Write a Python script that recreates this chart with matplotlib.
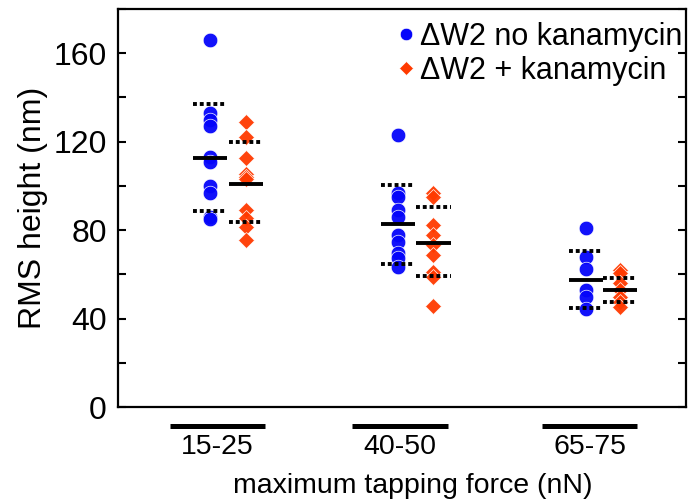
import numpy as np
import matplotlib.pyplot as plt
from matplotlib.lines import Line2D
import matplotlib.transforms as mtransforms

plt.rcParams['font.family'] = ['Liberation Sans', 'DejaVu Sans']

# categories and x positions (axis units)
groups = ['15-25', '40-50', '65-75']
bar_x = [1.76, 4.97, 8.31]
blue_x = [1.62, 4.94, 8.24]
red_x = [2.26, 5.56, 8.84]

# RMS heights (nm)
blue_vals = [
    [166, 133, 130, 127, 113, 111, 100, 97, 86, 85],
    [123, 96.7, 95, 89, 85.8, 77.8, 74.8, 69.5, 67.3, 63.5],
    [81, 68, 62.3, 53, 50, 44.5],
]
red_vals = [
    [129, 122, 112.5, 105.5, 104, 103, 89, 85.5, 81.5, 75.5],
    [96.7, 95, 82.4, 77.8, 73.3, 68.8, 61.2, 59, 45.7],
    [62, 60.6, 56, 53, 50, 47.6, 45.4],
]
# mean and upper/lower dotted lines
blue_mean = [112.8, 82.7, 57.5]
blue_hi = [137.2, 100.6, 70.7]
blue_lo = [88.7, 64.6, 44.7]
red_mean = [101, 74.4, 53]
red_hi = [119.8, 90.6, 58.2]
red_lo = [83.7, 59.3, 47.6]

blue = '#0505FA'
red = '#FF3A00'

fig = plt.figure(figsize=(6.89, 4.99), dpi=100)
ax = fig.add_axes([0.171, 0.184, 0.824, 0.798])
ax.set_xlim(0, 10)
ax.set_ylim(0, 180)

half = 0.3
for i in range(3):
    ax.plot([blue_x[i]] * len(blue_vals[i]), blue_vals[i], 'o', ms=10.5,
            color=blue, mec='white', mew=0.5, alpha=0.95, zorder=3)
    ax.plot([red_x[i]] * len(red_vals[i]), red_vals[i], 'D', ms=8.5,
            color=red, mec='white', mew=0.5, alpha=0.95, zorder=3)
    for x, m, hi, lo in [(blue_x[i], blue_mean[i], blue_hi[i], blue_lo[i]),
                         (red_x[i], red_mean[i], red_hi[i], red_lo[i])]:
        ax.plot([x - half, x + half], [m, m], color='black', lw=2.8, zorder=4,
                solid_capstyle='butt')
        for v in (hi, lo):
            ax.plot([x - half, x + half], [v, v], color='black', lw=2.8,
                    ls=(0, (1.0, 0.75)), zorder=4, dash_capstyle='butt')

# category bars below the axis
trans = mtransforms.blended_transform_factory(ax.transData, ax.transAxes)
for x in bar_x:
    ax.plot([x - 0.84, x + 0.84], [-0.048, -0.048], color='black', lw=3.6,
            transform=trans, clip_on=False, solid_capstyle='butt')

ax.set_xticks(bar_x)
ax.set_xticklabels(groups, fontsize=20.5)
ax.tick_params(axis='x', length=0, pad=19)
ax.set_yticks([0, 40, 80, 120, 160])
ax.set_yticks(np.arange(0, 181, 20), minor=True)
ax.tick_params(axis='y', which='both', direction='in', length=6, width=1.5,
               right=True, labelsize=23, pad=8)
for s in ax.spines.values():
    s.set_linewidth(1.6)

ax.set_ylabel('RMS height (nm)', fontsize=23, labelpad=4)
ax.set_xlabel('maximum tapping force (nN)', fontsize=20.5, labelpad=0)
ax.xaxis.set_label_coords(0.52, -0.165)

handles = [
    Line2D([], [], marker='o', ls='', color=blue, ms=9, mec='white', mew=0.5),
    Line2D([], [], marker='D', ls='', color=red, ms=7, mec='white', mew=0.5),
]
ax.legend(handles, ['ΔW2 no kanamycin', 'ΔW2 + kanamycin'], loc='upper right',
          bbox_to_anchor=(1.0, 0.975),
          frameon=False, fontsize=22, handlelength=0.5, handletextpad=0.2,
          borderaxespad=0.0, labelspacing=0.12, borderpad=0.1)

fig.savefig('out.png', dpi=100)
